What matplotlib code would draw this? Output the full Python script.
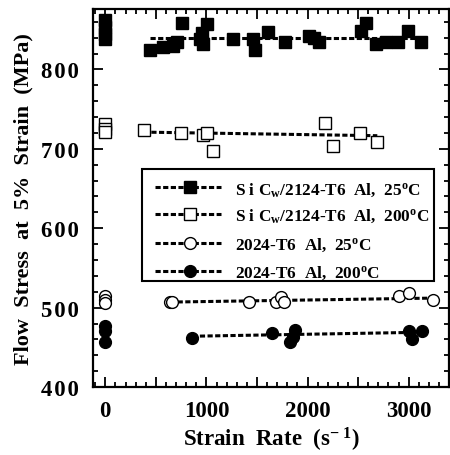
import matplotlib
matplotlib.use("Agg")
import matplotlib.pyplot as plt
from matplotlib.lines import Line2D
from matplotlib.patches import Rectangle
from matplotlib.ticker import MultipleLocator, FuncFormatter

plt.rcParams['font.family'] = ['Liberation Serif', 'DejaVu Serif']
plt.rcParams['font.weight'] = 'bold'
plt.rcParams['mathtext.fontset'] = 'custom'
plt.rcParams['mathtext.rm'] = 'Liberation Serif:bold'
plt.rcParams['mathtext.it'] = 'Liberation Serif:bold'
plt.rcParams['mathtext.bf'] = 'Liberation Serif:bold'

# ---- data ----
sic25_x = [0, 0, 0, 0, 445, 575, 673, 713, 762, 940, 970, 1010, 960, 1267, 1465, 1485,
           1614, 1782, 2010, 2060, 2110, 2525, 2574, 2673, 2772, 2891, 2990, 3119]
sic25_y = [862, 853, 845, 838, 825, 828, 829, 835, 858, 838, 832, 857, 846, 838, 838, 825,
           847, 834, 842, 840, 834, 848, 859, 832, 834, 835, 848, 835]
sic25_line_x = [445, 3119]
sic25_line_y = [839, 839]

sic200_x = [0, 0, 0, 380, 750, 970, 1010, 1070, 2170, 2250, 2515, 2690]
sic200_y = [731, 725, 721, 724, 720, 718, 720, 697, 732, 704, 720, 708]
sic200_line_x = [380, 2690]
sic200_line_y = [721, 716.5]

al25_x = [0, 0, 0, 640, 655, 1425, 1685, 1735, 1765, 2900, 3000, 3237]
al25_y = [515, 510, 506, 507, 507, 507, 507, 514, 507, 515, 519, 510]
al25_line_x = [640, 3237]
al25_line_y = [507, 512]

al200_x = [0, 0, 0, 860, 1650, 1830, 1860, 1880, 3000, 3030, 3130]
al200_y = [477, 470, 457, 462, 468, 457, 463, 472, 470, 460, 470]
al200_line_x = [860, 3130]
al200_line_y = [464, 469]

labels = [r"S i C$_\mathregular{w}$/2124-T6  Al,  25$^\mathregular{o}$C",
          r"S i C$_\mathregular{w}$/2124-T6  Al,  200$^\mathregular{o}$C",
          r"2024-T6  Al,  25$^\mathregular{o}$C",
          r"2024-T6  Al,  200$^\mathregular{o}$C"]

fig = plt.figure(figsize=(4.5, 4.56), dpi=100)
ax = fig.add_axes([0.207, 0.149, 0.791, 0.829])

ms = 8.5
lw = 2.2
dash = (1.7, 0.8)

series = [
    (sic25_x, sic25_y, sic25_line_x, sic25_line_y, 's', 'black'),
    (sic200_x, sic200_y, sic200_line_x, sic200_line_y, 's', 'white'),
    (al25_x, al25_y, al25_line_x, al25_line_y, 'o', 'white'),
    (al200_x, al200_y, al200_line_x, al200_line_y, 'o', 'black'),
]

for x, y, lx, ly, m, fc in series:
    ax.plot(lx, ly, color='black', lw=lw, linestyle=(0, dash), zorder=2)
    ax.plot(x, y, linestyle='none', marker=m, ms=ms, mfc=fc, mec='black', mew=1.0, zorder=3)

ax.set_xlim(-120, 3400)
ax.set_ylim(400, 876)

ax.xaxis.set_major_locator(MultipleLocator(500))
ax.xaxis.set_minor_locator(MultipleLocator(100))
ax.xaxis.set_major_formatter(FuncFormatter(lambda v, p: f"{int(v)}" if abs(v % 1000) < 1e-6 else ""))
ax.yaxis.set_major_locator(MultipleLocator(100))
ax.yaxis.set_minor_locator(MultipleLocator(20))
ax.yaxis.set_major_formatter(FuncFormatter(lambda v, p: "\u200a".join(f"{int(v)}")))

ax.tick_params(which='both', direction='in', top=True, right=True, width=1.3)
ax.tick_params(which='major', length=7, pad=8)
ax.tick_params(axis='x', which='major', labelsize=16.5, pad=9)
ax.tick_params(axis='y', which='major', labelsize=16.5, pad=10)
ax.tick_params(which='minor', length=3.5)
for s in ax.spines.values():
    s.set_linewidth(1.6)

ax.set_xlabel(r"Strain  Rate  (s$^{\mathregular{-}\ \mathregular{1}}$)", fontsize=16.5, fontweight='bold', labelpad=3)
ax.set_ylabel("Flow  Stress  at  5%  Strain  (MPa)", fontsize=16, fontweight='bold', labelpad=6)

# ---- legend drawn in axes coordinates ----
tr = ax.transAxes
ax.add_patch(Rectangle((0.138, 0.280), 0.820, 0.297, transform=tr, facecolor='white',
                       edgecolor='black', lw=1.5, zorder=5))
row_y = [0.529, 0.458, 0.381, 0.307]
for (x, y, lx, ly, m, fc), lab, ry in zip(series, labels, row_y):
    ax.add_line(Line2D([0.174, 0.360], [ry, ry], transform=tr, color='black', lw=lw,
                       linestyle=(0, dash), zorder=6))
    ax.add_line(Line2D([0.272], [ry], transform=tr, linestyle='none', marker=m, ms=ms,
                       mfc=fc, mec='black', mew=1.0, zorder=7))
    ax.text(0.399, ry - 0.016, lab, transform=tr, fontsize=12.4, fontweight='bold',
            va='baseline', ha='left', zorder=7)

fig.savefig("out.png", dpi=100)
